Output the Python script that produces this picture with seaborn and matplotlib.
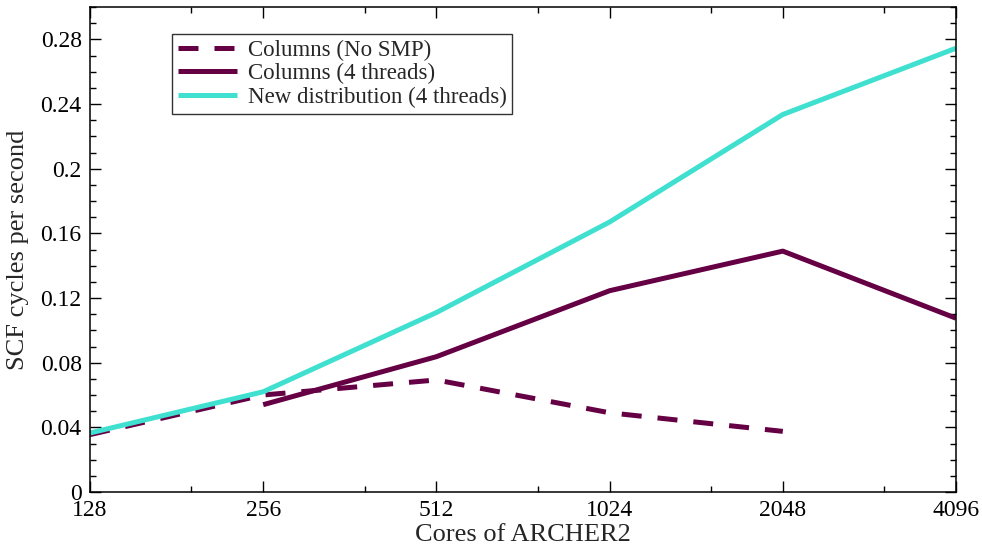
import numpy as np
import pandas as pd
import matplotlib
matplotlib.use("Agg")
import matplotlib.pyplot as plt
import matplotlib.ticker as mticker
import seaborn as sns

cores = [128, 256, 512, 1024, 2048, 4096]
no_smp = [0.0355, 0.060, 0.0693, 0.049, 0.0375, np.nan]
cols_4t = [np.nan, 0.054, 0.0837, 0.1245, 0.149, 0.1075]
new_4t = [0.0365, 0.062, 0.111, 0.167, 0.2335, 0.2745]
series_names = ["Columns (No SMP)", "Columns (4 threads)", "New distribution (4 threads)"]
x_ticks = [128, 256, 512, 1024, 2048, 4096]
x_minor = [192, 384, 768, 1536, 3072]
y_ticks = [0, 0.04, 0.08, 0.12, 0.16, 0.2, 0.24, 0.28]

sns.set_style("white")
plt.rcParams['font.family'] = ['Liberation Serif', 'DejaVu Serif']

fig = plt.figure(figsize=(9.82, 5.47), dpi=100)
ax = fig.add_axes([90/982, 55/547, (956-90)/982, (492-7)/547])

purple = "#660044"
cyan = "#40E0D0"
lw = 3.6

df = pd.DataFrame({"cores": cores, "a": no_smp, "b": cols_4t, "c": new_4t})

sns.lineplot(data=df, x="cores", y="a", ax=ax, color=purple, lw=lw,
             label=series_names[0], linestyle=(0, (4, 3.2)))
sns.lineplot(data=df, x="cores", y="b", ax=ax, color=purple, lw=lw,
             label=series_names[1])
sns.lineplot(data=df, x="cores", y="c", ax=ax, color=cyan, lw=lw,
             label=series_names[2])
for l in ax.lines:
    l.set_solid_capstyle("butt")
    l.set_dash_capstyle("butt")

ax.set_xscale("log", base=2)
ax.set_xlim(128, 4096)
ax.set_ylim(0, 0.3)
ax.xaxis.set_major_locator(mticker.FixedLocator(x_ticks))
ax.xaxis.set_minor_locator(mticker.FixedLocator(x_minor))
ax.xaxis.set_major_formatter(mticker.FixedFormatter([str(t) for t in x_ticks]))
ax.xaxis.set_minor_formatter(mticker.NullFormatter())
ax.yaxis.set_major_locator(mticker.FixedLocator(y_ticks))
ax.yaxis.set_major_formatter(mticker.FuncFormatter(lambda v, p: "%g" % round(v, 2)))
ax.yaxis.set_minor_locator(mticker.MultipleLocator(0.01))

ax.tick_params(which="both", direction="in", top=True, right=True,
               bottom=True, left=True, colors="black", width=1.0,
               labelsize=17)
ax.tick_params(which="major", length=8)
ax.tick_params(which="minor", length=4.5)
ax.tick_params(axis="x", which="major", pad=6)
ax.tick_params(axis="y", which="major", pad=6)
for s in ax.spines.values():
    s.set_color("black")
    s.set_linewidth(1.1)

ax.set_xlabel("Cores of ARCHER2", fontsize=19, labelpad=2)
ax.set_ylabel("SCF cycles per second", fontsize=19, labelpad=8)

leg = ax.legend(loc="upper left", bbox_to_anchor=((172-90)/866, (492-34)/485),
                frameon=True, fancybox=False, edgecolor="black", fontsize=16.5,
                handlelength=2.6, handletextpad=0.45, borderpad=0.25,
                labelspacing=0.1, borderaxespad=0)
leg.get_frame().set_linewidth(1.0)

fig.savefig("out.png", dpi=100)
